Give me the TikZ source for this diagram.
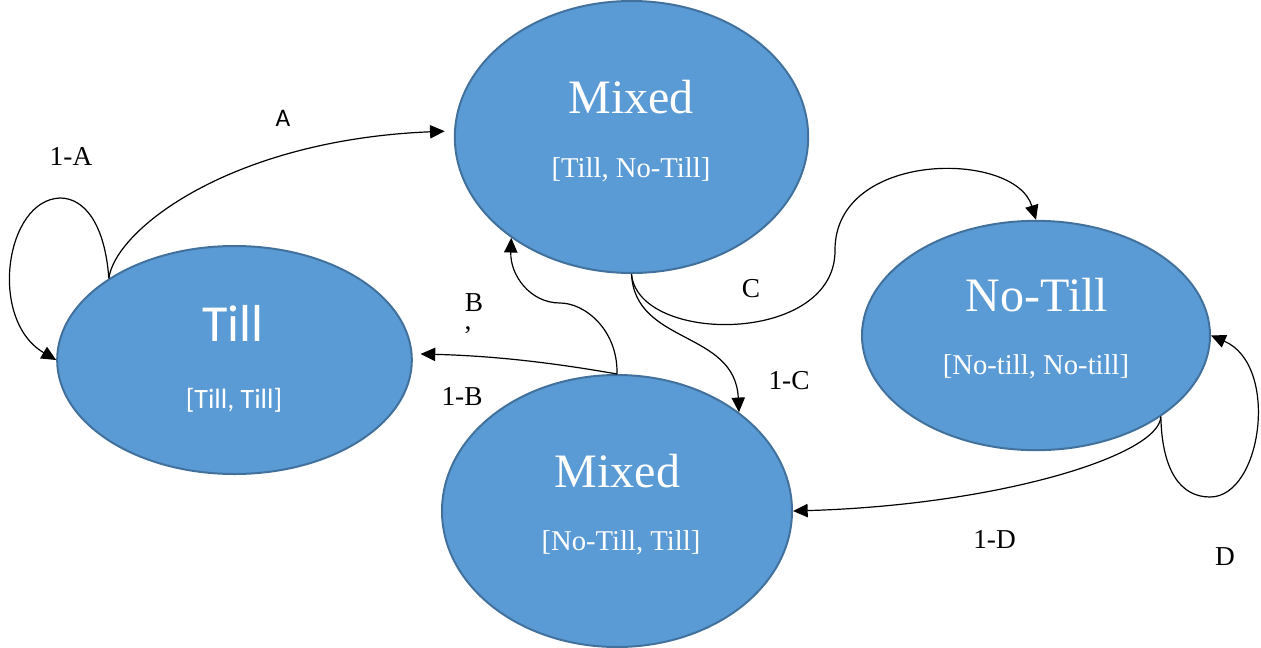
\documentclass[tikz,border=0pt]{standalone}
\usepackage{fontspec}
\setmainfont{Liberation Serif}
\newfontfamily\calibrifont{Carlito}
\usetikzlibrary{shapes.geometric,arrows.meta}
\definecolor{stateFill}{RGB}{91,155,213}
\definecolor{stateLine}{RGB}{65,113,156}
\tikzset{every picture/.style={line width=0.75pt}}
\tikzset{
  state/.style={ellipse,draw=stateLine,line width=1.5pt,fill=stateFill,inner sep=0pt},
  trans/.style={line width=0.9pt,-{Triangle[length=11pt,width=10pt]}},
  prob/.style={anchor=base,font=\fontsize{20.5}{24}\selectfont},
  stateName/.style={anchor=base,text=white,font=\fontsize{36}{40}\selectfont},
  statePair/.style={anchor=base,text=white,font=\fontsize{21.5}{24}\selectfont},
}

\begin{document}
\begin{tikzpicture}[x=0.75pt,y=0.75pt,yscale=-1,xscale=1]
\useasboundingbox (0,0) rectangle (1261,647);

%Shape: Ellipse [till]
\node [state,minimum width=266pt,minimum height=171pt] (till) at (234.5,360) {};
%Shape: Ellipse [mixed, till first]
\node [state,minimum width=265pt,minimum height=204pt] (mixA) at (631.5,137) {};
%Shape: Ellipse [no-till]
\node [state,minimum width=261pt,minimum height=172pt] (noTill) at (1036,335.5) {};
%Shape: Ellipse [mixed, no-till first]
\node [state,minimum width=262.5pt,minimum height=204pt] (mixB) at (617,511) {};

% Text Node
\node [stateName] (mixAName) at (631,113) {Mixed};
% Text Node
\node [statePair] (mixAPair) at (631,177) {{[}Till, No-Till]};
% Text Node
\node [stateName,font=\calibrifont\fontsize{39}{44}\selectfont] (tillName) at (233,341) {Till};
% Text Node
\node [statePair,font=\calibrifont\fontsize{21}{24}\selectfont] (tillPair) at (234,408) {{[}Till, Till]};
% Text Node
\node [stateName] (noTillName) at (1037,311) {No-Till};
% Text Node
\node [statePair] (noTillPair) at (1036,374) {{[}No-till, No-till]};
% Text Node
\node [stateName] (mixBName) at (617.5,487) {Mixed};
% Text Node
\node [statePair] (mixBPair) at (621,550) {{[}No-Till, Till]};

%Curve Lines [1-A loop]
\draw [trans] (till.147) .. controls (105,225) and (85,198) .. (60,198) .. controls (5,200) and (-12,320) .. (till.west);
%Curve Lines [A]
\draw [trans,shorten >=7pt] (till.147) .. controls (115,230) and (230,140) .. (mixA.178);
%Curve Lines [B]
\draw [trans] (mixB.north) .. controls (618,330) and (585,303) .. (560,303) .. controls (530,303) and (510,275) .. (mixA.220);
%Curve Lines [1-B]
\draw [trans,shorten >=6pt] (mixB.north) .. controls (560,364) and (500,356) .. (till.2);
%Curve Lines [C]
\draw [trans] (mixA.south) .. controls (638,345) and (836,345) .. (835,250) .. controls (835,150) and (1015,150) .. (noTill.north);
%Curve Lines [1-C]
\draw [trans] (mixA.south) .. controls (635,345) and (735,330) .. (mixB.39);
%Curve Lines [1-D]
\draw [trans] (noTill.327) .. controls (1160,455) and (1000,505) .. (mixB.east);
%Curve Lines [D loop]
\draw [trans] (noTill.327) .. controls (1162,470) and (1180,497) .. (1210,497) .. controls (1262,497) and (1280,365) .. (noTill.east);

% Text Node
\node [prob] (pOneA) at (71,165) {1-A};
% Text Node
\node [prob,font=\calibrifont\fontsize{19}{22}\selectfont] (pA) at (283,126) {A};
% Text Node
\node [prob,inner sep=0pt] (pB) at (474,311) {B};
% Text Node
\node [prob,inner sep=0pt] (pBcomma) at (468,329) {,};
% Text Node
\node [prob] (pOneB) at (462,405) {1-B};
% Text Node
\node [prob] (pC) at (751,297) {C};
% Text Node
\node [prob] (pOneC) at (789,389) {1-C};
% Text Node
\node [prob] (pOneD) at (994.5,548) {1-D};
% Text Node
\node [prob] (pD) at (1225,565) {D};

\end{tikzpicture}
\end{document}
